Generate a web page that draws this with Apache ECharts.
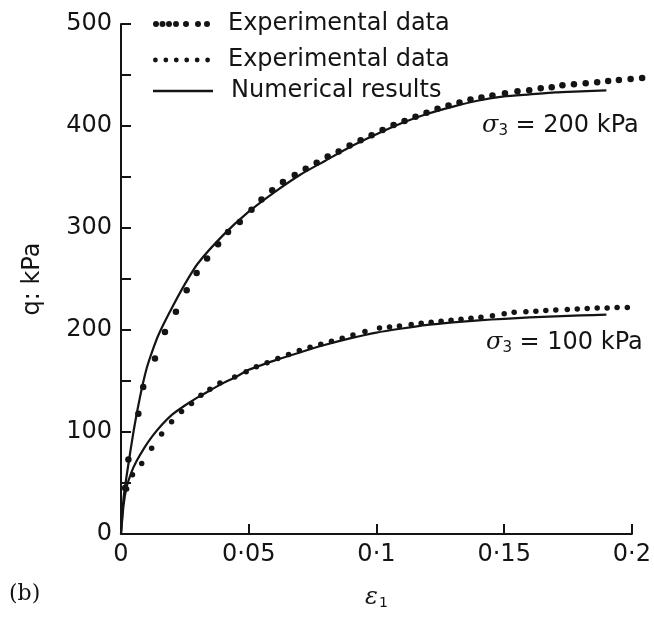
<!DOCTYPE html>
<html>
<head>
<meta charset="utf-8">
<script src="https://cdn.jsdelivr.net/npm/echarts@6/dist/echarts.min.js"></script>
<style>html,body{margin:0;padding:0;background:#fff;}#c{width:654px;height:618px;}</style>
</head>
<body>
<div id="c"></div>
<script>
// ---- data (strain ε1, deviator stress q in kPa) ----
var exp200Eps = [0.0016,0.0029,0.0068,0.0087,0.0133,0.0172,0.0215,0.0257,0.0296,0.0337,0.038,0.0419,0.0465,0.0511,0.055,0.0592,0.0634,0.068,0.0723,0.0766,0.0809,0.0852,0.0895,0.0938,0.0981,0.1024,0.1067,0.111,0.1153,0.1196,0.1239,0.1282,0.1325,0.1368,0.1411,0.1454,0.1503,0.1552,0.1598,0.1643,0.1686,0.1728,0.1773,0.1819,0.1864,0.1907,0.1949,0.1995,0.204];
var exp200Q   = [45,73,118,144,172,198,218,239,256,270,284,296,306,318,328,337,345,352,358,364,370,375,381,386,391,396,401,405,409,413,417,420,423,426,428,430,432,434,435,437,438,440,441,442,443,444,445,446,447];

var exp100Eps = [0.0022,0.0045,0.0081,0.012,0.0159,0.0198,0.0237,0.0276,0.0313,0.0348,0.0387,0.0445,0.049,0.053,0.0572,0.0614,0.0656,0.0698,0.074,0.0782,0.0824,0.0866,0.0908,0.0955,0.1012,0.1051,0.109,0.1136,0.1175,0.1214,0.1253,0.1292,0.1331,0.137,0.1409,0.1454,0.15,0.1539,0.1585,0.1624,0.1663,0.1702,0.1747,0.1786,0.1825,0.1864,0.1903,0.1942,0.1982];
var exp100Q   = [44,58,69,84,98,110,120,128,136,142,148,154,159,164,168,172,176,180,183,186,189,192,195,198.5,202,203,204,205.5,206.5,207.5,208.5,209.5,210.5,211.5,212.5,214,216,217.5,218,218.5,219,219.5,220,220.5,221,221.5,221.5,222,222];

var num200Eps = [0,0.001,0.0025,0.005,0.0075,0.01,0.0125,0.015,0.02,0.025,0.03,0.04,0.05,0.06,0.07,0.08,0.09,0.1,0.11,0.12,0.13,0.14,0.15,0.16,0.17,0.18,0.19];
var num200Q   = [0,35,62,102,135,162,181,197,222,245,265,293,316,335,352,366,380,392,403,412,419,425,429,431,433,434,435];

var num100Eps = [0,0.001,0.0022,0.004,0.006,0.009,0.012,0.016,0.02,0.025,0.03,0.035,0.04,0.045,0.05,0.06,0.07,0.08,0.09,0.1,0.11,0.12,0.13,0.14,0.15,0.16,0.17,0.18,0.19];
var num100Q   = [0,28,46,60,71,84,95,107,117,126,134,141,148,154,161,170,178,185.5,192,197.5,201.5,205,207.5,209.5,211,212.3,213.4,214.3,215];

var xTickValues = [0,0.05,0.1,0.15,0.2];
var xTickLabels = ['0','0·05','0·1','0·15','0·2'];
var yTickValues = [0,100,200,300,400,500];
var yTickLabels = ['0','100','200','300','400','500'];

var legendNames = {exp200:'Experimental data', exp100:'Experimental data', num:'Numerical results'};
var annotation200 = '200 kPa';
var annotation100 = '100 kPa';

function zip(a,b){var r=[];for(var i=0;i<a.length;i++)r.push([a[i],b[i]]);return r;}
function lbl(vals,labs,v){for(var i=0;i<vals.length;i++){if(Math.abs(vals[i]-v)<1e-9)return labs[i];}return '';}

var INK = '#141414';
var FONT = 'DejaVu Sans';
var FS = 24;

function dots(xs, r, h){var p='';for(var i=0;i<xs.length;i++){var cx=xs[i];p+='M'+(cx-r)+','+h+' a'+r+','+r+' 0 1,0 '+(2*r)+',0 a'+r+','+r+' 0 1,0 '+(-2*r)+',0 ';}return 'path://'+p;}
var icon1 = dots([3,9.5,16,23,33,45,54],3,3);
var icon2 = dots([2.5,12.5,22.5,32.5,42.5,52.5],2.3,2.5);

var chart = echarts.init(document.getElementById('c'), null, {renderer:'canvas'});
var legendBase = {
  left:153, orient:'vertical', padding:0, selectedMode:false,
  itemWidth:57, itemHeight:6,
  textStyle:{fontFamily:FONT,fontSize:FS,color:INK,lineHeight:26,padding:[0,0,0,13]},
  formatter:function(n){return legendNames[n]||n;}
};
var subRich = function(){return {fontFamily:FONT,fontSize:15,fill:INK,color:INK,padding:[11,0,0,0]};};
var option = {
  backgroundColor:'#fff',
  animation:false,
  grid:{left:121,right:21,top:24,bottom:84,containLabel:false},
  legend:[
    Object.assign({}, legendBase, {top:11, data:[{name:'exp200', icon:icon1}], itemHeight:6}),
    Object.assign({}, legendBase, {top:47, data:[{name:'exp100', icon:icon2}], itemHeight:5}),
    Object.assign({}, legendBase, {top:78, data:[{name:'num', icon:'rect'}], itemHeight:2.5, itemWidth:60})
  ],
  xAxis:{
    type:'value', min:0, max:0.2, interval:0.05,
    axisLine:{show:true,onZero:false,lineStyle:{color:INK,width:2}},
    axisTick:{show:true,inside:true,length:10,lineStyle:{color:INK,width:2}},
    splitLine:{show:false},
    axisLabel:{margin:9,fontFamily:FONT,fontSize:FS,color:INK,formatter:function(v){return lbl(xTickValues,xTickLabels,v);}},
    name:'{e|ε}{s|1}', nameLocation:'middle', nameGap:52,
    nameTextStyle:{rich:{e:{fontFamily:'DejaVu Serif',fontStyle:'italic',fontSize:FS,color:INK},s:{fontFamily:FONT,fontSize:14,color:INK,verticalAlign:'bottom',padding:[10,0,0,1]}}}
  },
  yAxis:{
    type:'value', min:0, max:500, interval:100,
    axisLine:{show:true,lineStyle:{color:INK,width:2}},
    axisTick:{show:true,inside:true,length:10,lineStyle:{color:INK,width:2}},
    minorTick:{show:true,splitNumber:2,length:10,lineStyle:{color:INK,width:2}},
    splitLine:{show:false}, minorSplitLine:{show:false},
    axisLabel:{margin:9,fontFamily:FONT,fontSize:FS,color:INK,formatter:function(v){return lbl(yTickValues,yTickLabels,v);}},
    name:'q: kPa', nameLocation:'middle', nameRotate:90, nameGap:76,
    nameTextStyle:{fontFamily:FONT,fontSize:FS,color:INK}
  },
  series:[
    {name:'num',type:'line',data:zip(num200Eps,num200Q),symbol:'none',smooth:0.2,lineStyle:{color:INK,width:2.2},itemStyle:{color:INK},z:2},
    {name:'num',type:'line',data:zip(num100Eps,num100Q),symbol:'none',smooth:0.2,lineStyle:{color:INK,width:2.2},itemStyle:{color:INK},z:2},
    {name:'exp200',type:'scatter',data:zip(exp200Eps,exp200Q),symbol:'circle',symbolSize:6.5,clip:false,itemStyle:{color:INK,opacity:1},z:3},
    {name:'exp100',type:'scatter',data:zip(exp100Eps,exp100Q),symbol:'circle',symbolSize:5.5,clip:false,itemStyle:{color:INK,opacity:1},z:3}
  ],
  graphic:[
    {type:'text',left:482,top:114,style:{text:'{g|σ}{s|3}{n| = '+annotation200+'}',rich:{
      g:{fontFamily:'DejaVu Serif',fontStyle:'italic',fontSize:FS,fill:INK,color:INK},
      s:subRich(),
      n:{fontFamily:FONT,fontSize:FS,fill:INK,color:INK}}}},
    {type:'text',left:486,top:331,style:{text:'{g|σ}{s|3}{n| = '+annotation100+'}',rich:{
      g:{fontFamily:'DejaVu Serif',fontStyle:'italic',fontSize:FS,fill:INK,color:INK},
      s:subRich(),
      n:{fontFamily:FONT,fontSize:FS,fill:INK,color:INK}}}},
    {type:'text',left:9,top:583,style:{text:'(b)',font:'22px "DejaVu Serif"',fill:INK}}
  ]
};
chart.setOption(option);
</script>
</body>
</html>
